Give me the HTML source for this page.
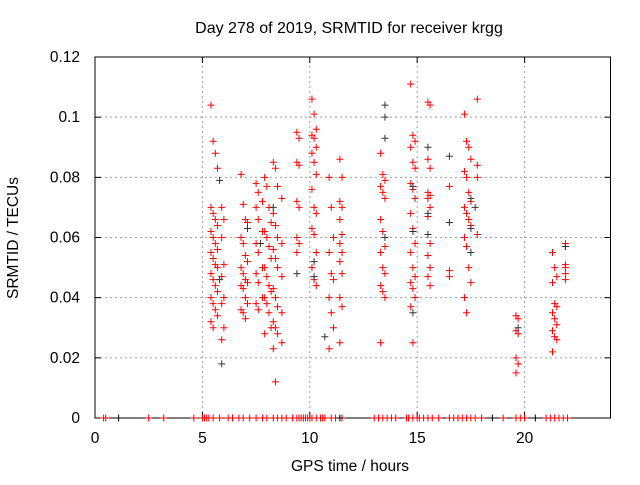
<!DOCTYPE html>
<html><head><meta charset="utf-8"><style>
body{margin:0;background:#fff}
svg text{font-family:"Liberation Sans",sans-serif;font-size:15.5px;fill:#000}
</style></head><body>
<svg id="chart" width="640" height="480">
<text x="349" y="33" text-anchor="middle" style="font-size:16px">Day 278 of 2019, SRMTID for receiver krgg</text>
<text x="0" y="0" transform="translate(18,238) rotate(-90)" text-anchor="middle">SRMTID / TECUs</text>
<text x="350" y="471" text-anchor="middle">GPS time / hours</text>
<g id="grid"></g><g id="axes"></g><g id="marks"></g>
</svg>
<script>
const xTicks=[0,5,10,15,20];
const yTicks=[0,0.02,0.04,0.06,0.08,0.1,0.12];
const yTickLabels=["0","0.02","0.04","0.06","0.08","0.1","0.12"];
const redCols=[
 {h:[5.4,5.5,5.6,5.7],v:[0.104,0.092,0.088,0.083,0.07,0.068,0.066,0.064,0.062,0.06,0.058,0.056,0.055,0.053,0.051,0.05,0.048,0.046,0.044,0.042,0.04,0.038,0.036,0.034,0.032,0.03]},
 {h:[5.9,6.0],v:[0.07,0.066,0.06,0.051,0.047,0.04,0.038,0.03,0.026]},
 {h:[6.8,6.9,7.0,7.1],v:[0.081,0.071,0.066,0.065,0.06,0.058,0.054,0.052,0.05,0.048,0.046,0.045,0.044,0.043,0.04,0.038,0.036,0.035,0.033]},
 {h:[7.5,7.6,7.8],v:[0.078,0.075,0.072,0.07,0.066,0.062,0.058,0.055,0.05,0.048,0.045,0.04,0.038,0.036]},
 {h:[7.9,8.0,8.1,8.2],v:[0.08,0.077,0.07,0.065,0.062,0.06,0.057,0.053,0.05,0.047,0.044,0.042,0.04,0.038,0.035,0.03,0.028]},
 {h:[8.3,8.4,8.5,8.7],v:[0.085,0.083,0.077,0.073,0.068,0.064,0.06,0.058,0.056,0.053,0.05,0.047,0.043,0.04,0.037,0.035,0.032,0.03,0.028,0.025,0.023,0.012]},
 {h:[9.4,9.5],v:[0.095,0.093,0.085,0.084,0.072,0.07,0.06,0.058,0.055]},
 {h:[10.1,10.2,10.3],v:[0.106,0.101,0.096,0.094,0.093,0.09,0.088,0.085,0.081,0.076,0.07,0.068,0.063,0.061,0.055,0.05,0.046,0.044]},
 {h:[10.9,11.0,11.1],v:[0.08,0.07,0.06,0.055,0.048,0.046,0.04,0.035,0.03,0.023]},
 {h:[11.4,11.5],v:[0.086,0.08,0.072,0.07,0.066,0.061,0.058,0.055,0.052,0.048,0.04,0.037,0.025]},
 {h:[13.3,13.4,13.5],v:[0.088,0.081,0.079,0.077,0.075,0.073,0.066,0.062,0.057,0.055,0.05,0.048,0.044,0.042,0.04,0.025]},
 {h:[14.7,14.8,14.9],v:[0.111,0.094,0.092,0.09,0.085,0.083,0.078,0.076,0.073,0.068,0.063,0.058,0.055,0.05,0.047,0.045,0.043,0.04,0.037,0.025]},
 {h:[15.5,15.6],v:[0.105,0.104,0.086,0.083,0.075,0.074,0.073,0.07,0.067,0.058,0.054,0.05,0.047,0.044]},
 {h:[16.5],v:[0.077,0.049,0.047]},
 {h:[17.2,17.3,17.4,17.5],v:[0.101,0.092,0.09,0.086,0.082,0.08,0.075,0.072,0.07,0.068,0.066,0.064,0.06,0.057,0.05,0.045,0.04,0.035]},
 {h:[17.8],v:[0.106,0.084,0.08,0.061]},
 {h:[19.6,19.7],v:[0.034,0.033,0.029,0.028,0.02,0.018,0.015]},
 {h:[21.3,21.4,21.5],v:[0.055,0.05,0.047,0.045,0.038,0.037,0.035,0.033,0.031,0.029,0.027,0.026,0.022]},
 {h:[21.9],v:[0.058,0.057,0.051,0.05,0.048,0.046]}
];
const blackHours=[5.8,5.8,5.9,7.1,7.7,8.3,9.4,10.2,10.2,10.7,13.5,13.5,13.5,13.5,14.8,14.8,14.8,15.5,15.5,15.5,16.5,16.5,17.5,17.5,17.5,17.7,19.7,21.9];
const blackValues=[0.079,0.046,0.018,0.063,0.058,0.07,0.048,0.052,0.047,0.027,0.104,0.1,0.093,0.06,0.077,0.062,0.035,0.09,0.068,0.061,0.087,0.065,0.073,0.063,0.055,0.07,0.03,0.057];
const zeroHours=[0.4,0.5,2.5,3.2,4.6,5.0,5.1,5.2,5.3,5.5,5.8,6.2,6.4,6.7,6.9,7.2,7.5,7.8,8.0,8.3,8.5,8.7,8.9,9.2,9.4,9.5,9.6,9.7,9.8,9.9,10.0,10.1,10.3,10.5,10.6,10.7,11.0,11.2,11.5,13.0,13.2,13.4,13.6,13.8,14.0,14.5,14.6,14.8,15.0,15.1,15.3,15.5,15.7,16.0,16.5,16.7,16.9,17.1,17.3,17.5,17.7,18.0,19.0,19.6,19.8,20.0,21.0,21.2,21.4,21.6,21.8,22.0];
const zeroBlackHours=[1.1,11.4,18.5,20.5];
const X0=95,X1=610.5,Y0=418,Y1=57,XMAX=24,YMAX=0.12;
const sx=h=>X0+(X1-X0)*h/XMAX, sy=v=>Y0-(Y0-Y1)*v/YMAX;
const NS="http://www.w3.org/2000/svg";
function mk(t,a,p){const e=document.createElementNS(NS,t);for(const k in a)e.setAttribute(k,a[k]);p.appendChild(e);return e;}
const grid=document.getElementById('grid'),axes=document.getElementById('axes'),marks=document.getElementById('marks');
xTicks.forEach(t=>{const x=sx(t);
 if(t>0){const g=mk('line',{x1:x,x2:x,y1:Y0,y2:Y1,stroke:'#a0a0a0','stroke-dasharray':'2,3'},grid);
 
 }
 mk('line',{x1:x,x2:x,y1:Y0,y2:Y0-6,stroke:'#000'},axes);mk('line',{x1:x,x2:x,y1:Y1,y2:Y1+6,stroke:'#000'},axes);
 const l=mk('text',{x:x,y:Y0+25,'text-anchor':'middle'},axes);l.textContent=t;
 
 });
yTicks.forEach((t,i)=>{const y=sy(t);
 if(i>0&&i<yTicks.length-1){const g=mk('line',{x1:X0,x2:X1,y1:y,y2:y,stroke:'#a0a0a0','stroke-dasharray':'2,3'},grid);
 
 }
 mk('line',{x1:X0,x2:X0+6,y1:y,y2:y,stroke:'#000'},axes);mk('line',{x1:X1,x2:X1-6,y1:y,y2:y,stroke:'#000'},axes);
 const l=mk('text',{x:X0-15,y:y+5,'text-anchor':'end'},axes);l.textContent=yTickLabels[i];
 
 });
const b=mk('rect',{x:X0,y:Y1,width:X1-X0,height:Y0-Y1,fill:'none',stroke:'#000'},axes);


function plus(h,v,c){const x=sx(h),y=sy(v);
 const p=mk('path',{d:`M${x-3.5},${y}h7M${x},${y-3.5}v7`,stroke:c,'stroke-width':1},marks);
 
 }
zeroHours.forEach(h=>plus(h,0,'#f00'));
zeroBlackHours.forEach(h=>plus(h,0,'#000'));
redCols.forEach(c=>c.v.forEach((v,i)=>plus(c.h[i%c.h.length],v,'#f00')));
blackHours.forEach((h,i)=>plus(h,blackValues[i],'#333'));
</script>
</body></html>
